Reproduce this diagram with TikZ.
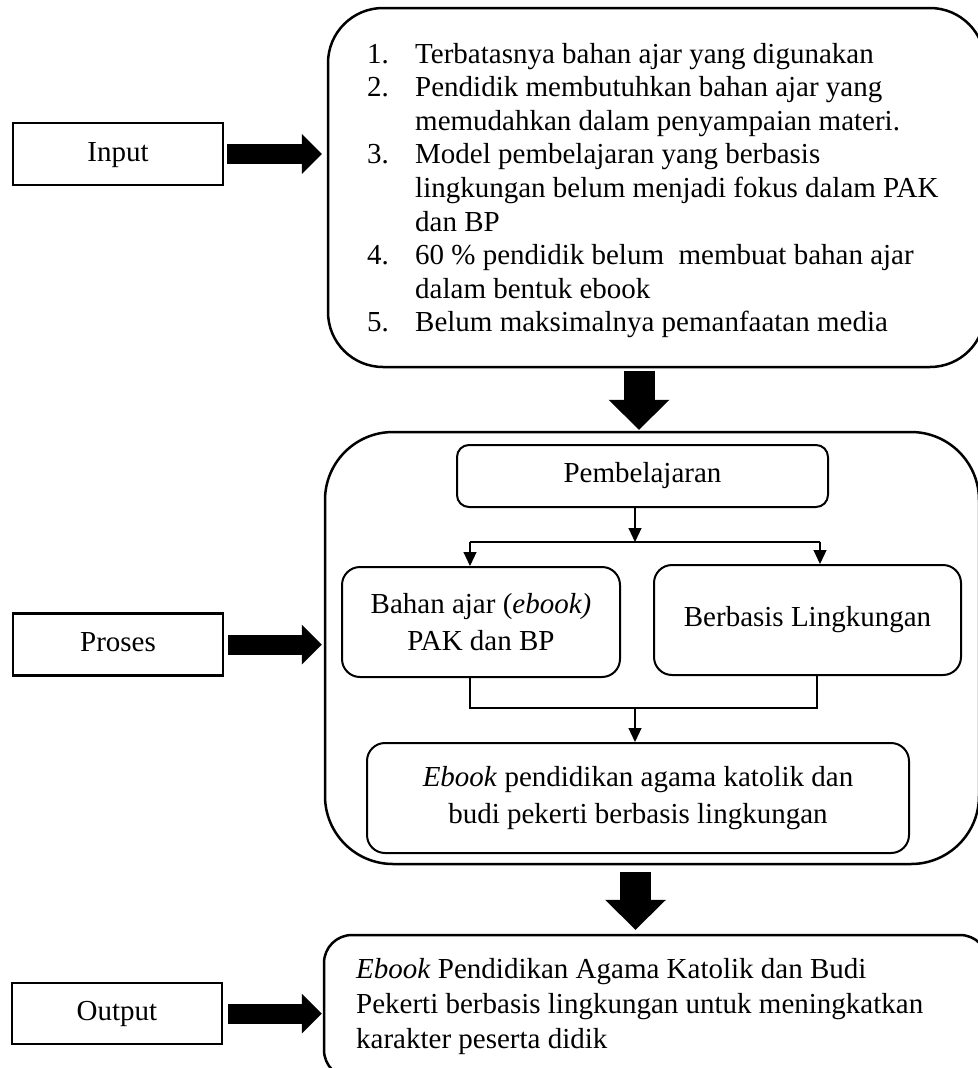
\documentclass[tikz,border=0pt]{standalone}
\usepackage{fontspec}
\setmainfont{Liberation Serif}
\usetikzlibrary{arrows.meta}
\begin{document}
\begin{tikzpicture}[x=1pt,y=-1pt,
  every node/.style={font=\fontsize{29}{37}\selectfont},
  lbl/.style={draw, line width=2.3pt, minimum width=210pt, minimum height=62pt, inner sep=0pt, text height=20pt, text depth=6pt},
  outerbox/.style={draw, line width=2.5pt, inner sep=0pt},
  innerbox/.style={draw, line width=2pt, rounded corners=18pt, inner sep=0pt, align=center},
  txt/.style={anchor=base west, inner sep=0pt},
  conn/.style={line width=1.1pt},
  tarrow/.style={conn, -{Triangle[length=14pt,width=13pt]}},
  sidearrow/.style={line width=20pt, -{Triangle[length=20pt,width=40pt,line width=0pt]}},
  downarrow/.style={line width=31pt, -{Triangle[length=30pt,width=61pt,line width=0pt]}},
]
\fill[white] (0,0) rectangle (977,1068);
\useasboundingbox (0,0) rectangle (977,1068);

% left labels
\node[lbl] (inp) at (118,154) {Input};
\node[lbl] (pro) at (118,644.5) {Proses};
\node[lbl, minimum height=61pt] (outl) at (117,1013.5) {Output};

% top box
\node[outerbox, rounded corners=55pt, minimum width=657pt, minimum height=359pt] (topbox) at (656.5,187.5) {};
\node[txt] (n1) at (367,63) {1.};
\node[txt] (l1) at (415,63) {Terbatasnya bahan ajar yang digunakan};
\node[txt] (n2) at (367,96.6) {2.};
\node[txt] (l2) at (415,96.6) {Pendidik membutuhkan bahan ajar yang};
\node[txt] (l3) at (415,130.2) {memudahkan dalam penyampaian materi.};
\node[txt] (n3) at (367,163.8) {3.};
\node[txt] (l4) at (415,163.8) {Model pembelajaran yang berbasis};
\node[txt] (l5) at (415,197.4) {lingkungan belum menjadi fokus dalam PAK};
\node[txt] (l6) at (415,231) {dan BP};
\node[txt] (n4) at (367,264.6) {4.};
\node[txt] (l7) at (415,264.6) {60 \% pendidik belum~ membuat bahan ajar};
\node[txt] (l8) at (415,298.2) {dalam bentuk ebook};
\node[txt] (n5) at (367,331.8) {5.};
\node[txt] (l9) at (415,331.8) {Belum maksimalnya pemanfaatan media};

% middle box
\node[outerbox, rounded corners=68pt, minimum width=654pt, minimum height=432pt] (midbox) at (652,648) {};
\node[innerbox, rounded corners=12pt, minimum width=371pt, minimum height=62pt] (pem) at (642.5,476) {Pembelajaran};
\node[innerbox, minimum width=278pt, minimum height=110pt] (bahan) at (481,622) {Bahan ajar (\textit{ebook)}\\PAK dan BP};
\node[innerbox, minimum width=307pt, minimum height=110pt] (berb) at (807.5,620) {Berbasis Lingkungan};
\node[innerbox, minimum width=542pt, minimum height=110pt] (ebook) at (638,798) {\textit{Ebook} pendidikan agama katolik dan\\budi pekerti berbasis lingkungan};

% output box
\node[outerbox, rounded corners=28pt, minimum width=664pt, minimum height=143pt] (outbox) at (656,1006.5) {};
\node[txt] (o1) at (356,978) {\textit{Ebook} Pendidikan Agama Katolik dan Budi};
\node[txt] (o2) at (356,1013) {Pekerti berbasis lingkungan untuk meningkatkan};
\node[txt] (o3) at (356,1048) {karakter peserta didik};

% block arrows
\draw[sidearrow, shorten <=3pt, shorten >=5pt] (inp.east) -- (inp.east -| topbox.west);
\draw[sidearrow, shorten <=4pt, shorten >=2pt] (pro.east) -- (pro.east -| midbox.west);
\draw[sidearrow, shorten <=5pt, shorten >=1pt] (outl.east) -- (outl.east -| outbox.west);
\coordinate (d1) at (639,0);
\draw[downarrow, shorten <=3pt, shorten >=1pt] (d1 |- topbox.south) -- (d1 |- midbox.north);
\coordinate (d2) at (635.5,0);
\draw[downarrow, shorten <=7pt, shorten >=4pt] (d2 |- midbox.south) -- (d2 |- outbox.north);

% thin connectors
\coordinate (j) at (635,542);
\coordinate (jl) at (470,542);
\coordinate (jr) at (820,542);
\draw[tarrow] (pem.south -| j) -- (j);
\draw[conn] (jl) -- (jr);
\draw[tarrow] (jl) -- (jl |- bahan.north);
\draw[tarrow] (jr) -- (jr |- berb.north);
\coordinate (k) at (635,708);
\coordinate (kl) at (470,708);
\coordinate (kr) at (817,708);
\draw[conn] (kl |- bahan.south) -- (kl) -- (kr) -- (kr |- berb.south);
\draw[tarrow] (k) -- (k |- ebook.north);
\end{tikzpicture}
\end{document}
